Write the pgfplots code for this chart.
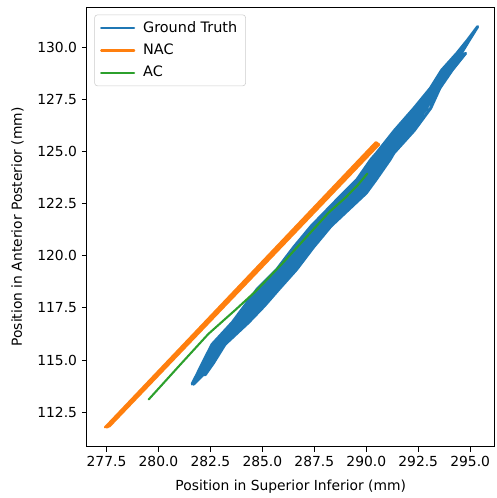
\documentclass[border=0pt]{standalone}
\usepackage{pgfplots}
\pgfplotsset{compat=1.18}
\usepackage{fontspec}
\setmainfont{DejaVu Sans}
\definecolor{tabblue}{HTML}{1F77B4}
\definecolor{taborange}{HTML}{FF7F0E}
\definecolor{tabgreen}{HTML}{2CA02C}
\begin{document}
\begin{tikzpicture}
\begin{axis}[
  scale only axis,
  width=294.5pt, height=317.5pt,
  xmin=276.55, xmax=296.18,
  ymin=110.84, ymax=131.93,
  xtick={277.5,280,282.5,285,287.5,290,292.5,295},
  ytick={112.5,115,117.5,120,122.5,125,127.5,130},
  xtick pos=left, ytick pos=left,
  tick align=outside,
  major tick length=3.5pt,
  tick style={black, line width=0.6pt},
  axis line style={line width=0.6pt},
  /pgf/number format/assume math mode=true,
  /pgf/number format/.cd, fixed, fixed zerofill, precision=1, /pgfplots/.cd,
  ticklabel style={font=\fontsize{10}{12}\selectfont},
  label style={font=\fontsize{10}{12}\selectfont},
  xlabel={Position in Superior Inferior (mm)},
  ylabel={Position in Anterior Posterior (mm)},
  xlabel style={yshift=-2.5pt},
  ylabel style={yshift=3pt},
  legend style={at={(0,1)}, anchor=north west, xshift=5.5pt, yshift=-5.5pt,
    draw=black!20, rounded corners=2pt, fill=white, fill opacity=0.8, text opacity=1,
    font=\fontsize{10.4}{12.5}\selectfont, row sep=2.7pt, inner xsep=4pt, inner ysep=3pt},
  legend cell align=left,
  legend image code/.code={\draw[line width=1.5pt] (0pt,0pt) -- (23.8pt,0pt); \path (27.5pt,0pt);},
]
% Ground Truth
\addplot[tabblue, line width=2.2pt, line join=round, line cap=round,
  legend image post style={line width=1.5pt}] coordinates {
(281.62,113.85)(281.85,114.30)(282.12,114.85)(282.58,115.75)(283.55,116.80)(284.15,117.60)(284.75,118.40)(285.70,119.35)(286.50,120.40)(287.35,121.42)(288.90,123.01)(289.55,123.65)(290.22,124.61)(290.50,124.93)(291.35,126.00)(292.30,127.08)(293.09,128.04)(293.63,128.90)(294.36,129.71)(294.88,130.35)(295.36,130.99)
(294.96,130.35)(294.57,129.71)(293.88,128.90)(293.31,128.04)
(294.78,129.71)(294.13,128.90)(293.54,128.04)(293.10,127.08)(292.30,126.00)(291.33,124.93)(291.14,124.61)(290.47,123.65)(290.00,123.01)(288.30,121.42)(287.45,120.40)(286.65,119.35)(285.80,118.40)(285.10,117.60)(284.33,116.80)(283.20,115.75)(282.64,114.85)(282.25,114.30)
(281.95,114.30)(282.25,114.85)(282.74,115.75)(283.75,116.80)(284.39,117.60)(285.01,118.40)(285.94,119.35)(286.74,120.40)(287.59,121.42)(289.18,123.01)(289.78,123.65)(290.45,124.61)(290.71,124.93)(291.59,126.00)(292.50,127.08)(293.20,128.04)(293.76,128.90)
(293.43,128.04)(292.90,127.08)(292.06,126.00)(291.12,124.93)(290.91,124.61)(290.24,123.65)(289.73,123.01)(288.06,121.42)(287.21,120.40)(286.41,119.35)(285.54,118.40)(284.86,117.60)(284.14,116.80)(283.05,115.75)(282.51,114.85)(282.15,114.30)(281.70,113.85)
(281.67,113.85)(282.05,114.30)(282.38,114.85)(282.89,115.75)(283.94,116.80)(284.63,117.60)(285.28,118.40)(286.18,119.35)(286.98,120.40)(287.83,121.42)(289.45,123.01)(290.01,123.65)(290.68,124.61)(290.92,124.93)(291.83,126.00)(292.86,127.08)
(292.21,126.00)(291.25,124.93)(291.05,124.61)(290.38,123.65)(289.89,123.01)(288.21,121.42)(287.36,120.40)(286.56,119.35)(285.70,118.40)(285.01,117.60)(284.25,116.80)(283.14,115.75)(282.59,114.85)
(282.18,114.85)(282.65,115.75)(283.64,116.80)(284.26,117.60)(284.88,118.40)(285.81,119.35)(286.61,120.40)(287.46,121.42)(289.03,123.01)(289.66,123.65)(290.33,124.61)(290.60,124.93)(291.46,126.00)(292.40,127.08)(293.14,128.04)(293.69,128.90)(294.41,129.71)
(294.62,129.71)(293.94,128.90)(293.37,128.04)(292.80,127.08)(291.94,126.00)(291.01,124.93)(290.79,124.61)(290.12,123.65)(289.58,123.01)(287.94,121.42)(287.09,120.40)(286.29,119.35)(285.40,118.40)(284.74,117.60)(284.03,116.80)(282.96,115.75)(282.44,114.85)(282.10,114.30)
(282.00,114.30)(282.32,114.85)(282.82,115.75)(283.85,116.80)(284.51,117.60)(285.15,118.40)(286.06,119.35)(286.86,120.40)(287.71,121.42)(289.32,123.01)(289.90,123.65)(290.57,124.61)(290.82,124.93)(291.71,126.00)(292.60,127.08)(293.26,128.04)
};
\addlegendentry{Ground Truth}
% NAC
\addplot[taborange, line width=1.5pt, line join=round, line cap=round] coordinates {
(277.42,111.77)(290.45,125.44)(290.52,125.42)(277.49,111.77)(277.56,111.78)(290.57,125.38)(290.62,125.33)(277.63,111.80)
};
\addlegendentry{NAC}
% AC
\addplot[tabgreen, line width=1.5pt, line join=round, line cap=round] coordinates {
(279.53,113.11)(281.05,114.78)(282.40,116.25)(283.73,117.43)(284.69,118.31)(285.95,119.62)(288.20,122.08)(289.01,122.80)(289.60,123.40)(290.05,123.94)
};
\addlegendentry{AC}
\end{axis}
\path (-62.64pt,-33.84pt) rectangle (295.94pt,322.54pt);
\end{tikzpicture}
\end{document}
